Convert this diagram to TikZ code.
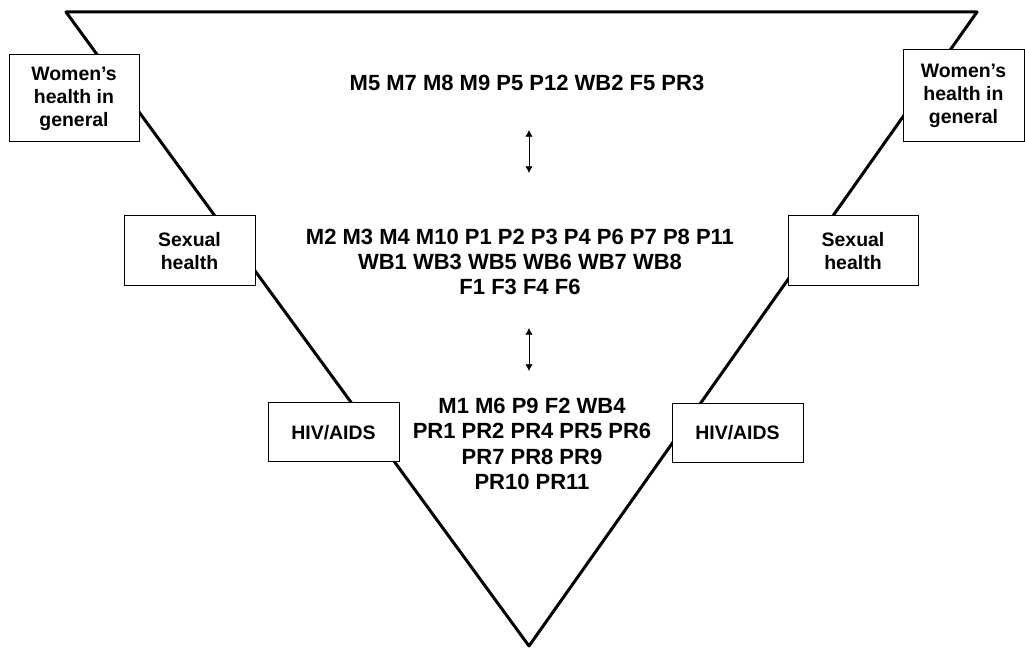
\documentclass[tikz,border=0pt]{standalone}
\usepackage{fontspec}
\setmainfont{Liberation Sans}
\usetikzlibrary{arrows.meta}
\begin{document}
\begin{tikzpicture}[x=0.75pt,y=-0.75pt,
    area/.style={draw,fill=white,line width=0.75pt,align=center,inner sep=0pt,
        font=\bfseries\fontsize{14.6}{17.3}\selectfont},
    codes/.style={align=center,inner sep=0pt,font=\bfseries\fontsize{16.5}{19}\selectfont},
    link/.style={{Latex[length=5pt,width=5.5pt]}-{Latex[length=5pt,width=5.5pt]},line width=0.6pt}]
    \useasboundingbox (0,0) rectangle (1025,648);
    % the funnel
    \coordinate (tl) at (66,12);
    \coordinate (tr) at (977,12);
    \coordinate (tip) at (529,646);
    \draw [line width=2.25pt,line join=round,line cap=round] (tl) -- (tr) -- (tip) -- cycle;
    % levels, left side
    \node[area,minimum width=97.5pt,minimum height=65.25pt] (whl) at (74,98.5) {Women’s\\health in\\general};
    \node[area,minimum width=98.25pt,minimum height=52.5pt] (shl) at (189.5,251) {Sexual\\health};
    \node[area,minimum width=98.25pt,minimum height=44.25pt] (hivl) at (333.5,432.5) {HIV/AIDS};
    % levels, right side
    \node[area,minimum width=90.75pt,minimum height=69pt] (whr) at (963.5,96) {Women’s\\health in\\general};
    \node[area,minimum width=97.5pt,minimum height=52.5pt] (shr) at (853,251) {Sexual\\health};
    \node[area,minimum width=98.25pt,minimum height=44.25pt] (hivr) at (737.5,433) {HIV/AIDS};
    % codes
    \node[codes] (top) at (527,83) {M5 M7 M8 M9 P5 P12 WB2 F5 PR3};
    \node[codes] (mid) at (520,262) {M2 M3 M4 M10 P1 P2 P3 P4 P6 P7 P8 P11\\WB1 WB3 WB5 WB6 WB7 WB8\\F1 F3 F4 F6};
    \node[codes] (bot) at (532,444) {M1 M6 P9 F2 WB4\\PR1 PR2 PR4 PR5 PR6\\PR7 PR8 PR9\\PR10 PR11};
    \coordinate (u1) at (529,130);
    \coordinate (u2) at (529,173);
    \coordinate (d1) at (529,328);
    \coordinate (d2) at (529,371);
    \draw [link] (u1) -- (u2);
    \draw [link] (d1) -- (d2);
\end{tikzpicture}
\end{document}
